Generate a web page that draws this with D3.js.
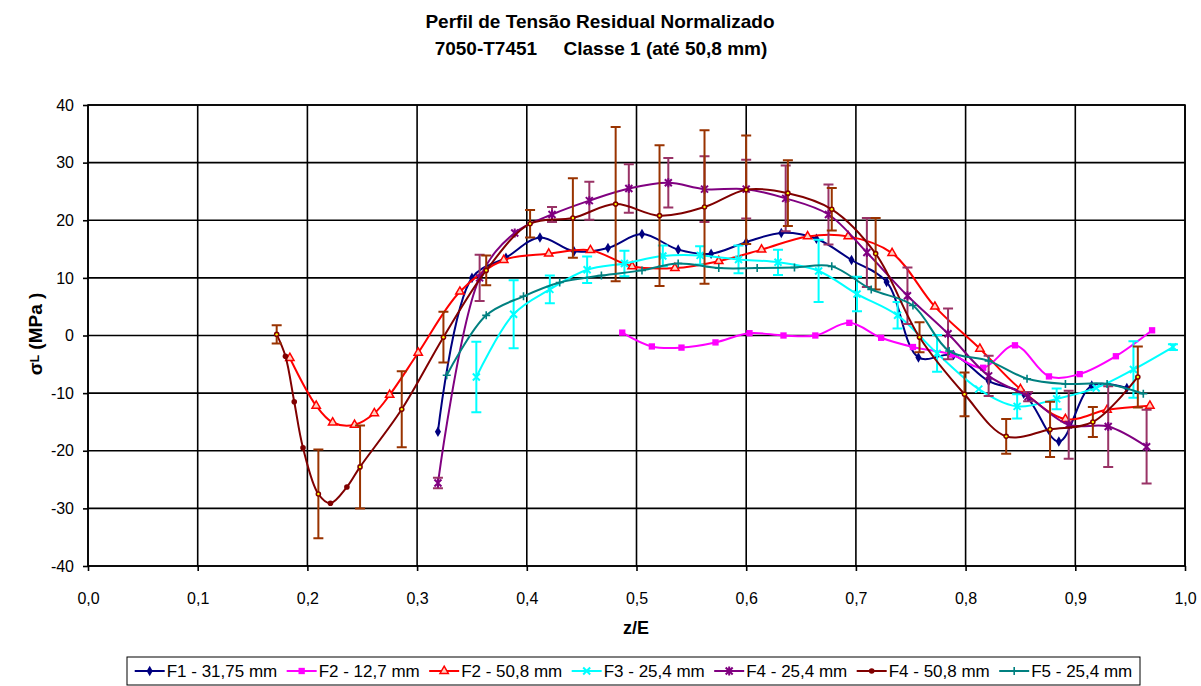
<!DOCTYPE html>
<html>
<head>
<meta charset="utf-8">
<script src="https://cdn.jsdelivr.net/npm/d3@7"></script>
<style>
  body { margin: 0; background: #fff; }
  svg { display: block; font-family: "Liberation Sans", Arial, Helvetica, sans-serif; }
</style>
</head>
<body>
<svg id="chart" width="1201" height="686"></svg>
<script>
// Axis ticks
const xTicks = [0, 0.1, 0.2, 0.3, 0.4, 0.5, 0.6, 0.7, 0.8, 0.9, 1.0];
const yTicks = [-40, -30, -20, -10, 0, 10, 20, 30, 40];

// Series labels and colours
const seriesNames = ["F1 - 31,75 mm", "F2 - 12,7 mm", "F2 - 50,8 mm", "F3 - 25,4 mm",
                     "F4 - 25,4 mm", "F4 - 50,8 mm", "F5 - 25,4 mm"];
const seriesColors = ["#000080", "#FF00FF", "#FF0000", "#00FFFF", "#800080", "#800000", "#008080"];
const errorColors = [null, null, null, "#00FFFF", "#993366", "#993300", null];
const markerKinds = ["diamond", "square", "triangle", "xmark", "star", "circle", "plus"];

// Points: [z/E, sigma_L (MPa), +/- error (MPa) or null]
const f1 = [[0.319,-16.7],[0.350,10.0],[0.381,13.5],[0.412,17.0],[0.443,14.6],[0.474,15.2],
            [0.505,17.6],[0.538,14.9],[0.568,14.2],[0.600,16.2],[0.632,17.8],[0.664,16.8],
            [0.696,13.1],[0.728,9.3],[0.757,-3.8],[0.789,-3.4],[0.821,-7.9],[0.853,-10.1],
            [0.885,-18.4],[0.915,-8.7],[0.947,-9.1]];
const f2a = [[0.487,0.5],[0.514,-1.9],[0.541,-2.1],[0.572,-1.2],[0.603,0.4],[0.634,0.0],
             [0.663,0.0],[0.694,2.2],[0.723,-0.4],[0.752,-2.0],[0.787,-3.3],[0.816,-5.6],
             [0.845,-1.7],[0.876,-7.1],[0.904,-6.7],[0.937,-3.6],[0.970,0.9]];
const f2b = [[0.184,-3.9],[0.208,-12.2],[0.223,-15.1],[0.243,-15.5],[0.261,-13.5],[0.275,-10.3],
             [0.301,-3.0],[0.339,7.6],[0.379,13.1],[0.420,14.2],[0.458,14.8],[0.496,12.0],
             [0.535,11.7],[0.575,12.9],[0.614,14.9],[0.656,17.2],[0.693,17.2],[0.733,14.3],
             [0.772,5.0],[0.813,-2.3],[0.850,-9.3],[0.891,-14.5],[0.929,-12.9],[0.968,-12.2]];
const f3 = [[0.354,-7.2,6.1],[0.388,3.7,5.9],[0.421,8.0,2.4],[0.455,11.4,2.3],[0.489,12.5,2.2],
            [0.524,13.8,1.8],[0.558,13.9,1.6],[0.593,13.2,2.4],[0.629,12.7,2.2],[0.666,11.2,5.4],
            [0.701,7.2,3.0],[0.738,3.5,2.3],[0.774,-3.1,3.2],[0.812,-9.3,null],[0.847,-12.3,2.1],
            [0.883,-11.0,1.8],[0.919,-9.1,null],[0.953,-5.9,4.9],[0.989,-2.0,0.5]];
const f4a = [[0.319,-25.6,0.9],[0.357,10.0,4.0],[0.389,17.8,null],[0.423,21.0,1.3],[0.457,23.4,3.3],
             [0.493,25.5,4.2],[0.529,26.5,4.3],[0.562,25.4,5.7],[0.600,25.4,5.1],[0.636,23.8,5.7],
             [0.675,21.0,5.2],[0.710,14.4,6.0],[0.747,6.9,4.9],[0.784,0.3,4.4],[0.821,-7.0,3.5],
             [0.857,-10.6,0.8],[0.894,-15.5,5.9],[0.930,-15.8,7.0],[0.965,-19.3,6.4]];
const f4b = [[0.172,0.2,1.6],[0.180,-3.6,null],[0.188,-11.5,null],[0.196,-19.5,null],[0.210,-27.5,7.7],
             [0.221,-29.1,null],[0.236,-26.3,null],[0.248,-22.8,7.2],[0.286,-12.8,6.6],[0.324,-0.3,4.4],
             [0.363,11.3,2.6],[0.403,19.4,2.4],[0.442,20.4,6.9],[0.481,22.8,13.4],[0.521,20.8,12.2],
             [0.562,22.3,13.3],[0.600,25.3,9.4],[0.638,24.7,5.7],[0.678,21.9,3.7],[0.718,14.2,6.2],
             [0.758,-0.3,2.6],[0.799,-10.2,3.8],[0.837,-17.5,3.0],[0.877,-16.3,4.8],[0.916,-15.0,2.6],
             [0.957,-7.2,5.3]];
const f5 = [[0.327,-6.9],[0.363,3.5],[0.397,6.8],[0.430,9.2],[0.468,10.4],[0.505,11.3],[0.538,12.5],
            [0.575,11.7],[0.610,11.7],[0.644,11.8],[0.678,12.0],[0.714,8.0],[0.752,5.2],[0.785,-2.7],
            [0.821,-4.4],[0.856,-7.5],[0.891,-8.4],[0.929,-8.4],[0.962,-10.1]];

const seriesData = [f1, f2a, f2b, f3, f4a, f4b, f5];

const svg = d3.select("#chart");
const plotL = 88, plotR = 1185, plotT = 105, plotB = 566;
const x = d3.scaleLinear().domain([0, 1]).range([plotL, plotR]);
const y = d3.scaleLinear().domain([-40, 40]).range([plotB, plotT]);

// Title
const title = svg.append("text").attr("text-anchor", "middle")
  .style("font-weight", "bold").style("font-size", "19px").attr("fill", "#000");
title.append("tspan").attr("x", 600).attr("y", 28).text("Perfil de Tensão Residual Normalizado");
title.append("tspan").attr("x", 601).attr("y", 55)
  .style("white-space", "pre").text("7050-T7451     Classe 1 (até 50,8 mm)");

// Grid
const grid = svg.append("g").attr("stroke", "#000").attr("stroke-width", 1.6);
grid.selectAll("line.v").data(xTicks).join("line").attr("class", "v")
  .attr("x1", d => x(d)).attr("x2", d => x(d)).attr("y1", plotT).attr("y2", plotB);
grid.selectAll("line.h").data(yTicks).join("line").attr("class", "h")
  .attr("x1", plotL).attr("x2", plotR).attr("y1", d => y(d)).attr("y2", d => y(d));
svg.append("rect").attr("x", plotL).attr("y", plotT).attr("width", plotR - plotL).attr("height", plotB - plotT)
  .attr("fill", "none").attr("stroke", "#000").attr("stroke-width", 1.6);

// Axes
const fmtX = d => d3.format(".1f")(d).replace(".", ",");
const xAxis = svg.append("g").attr("transform", `translate(0,${plotB})`)
  .call(d3.axisBottom(x).tickValues(xTicks).tickFormat(fmtX).tickSize(5).tickPadding(22));
const yAxis = svg.append("g").attr("transform", `translate(${plotL},0)`)
  .call(d3.axisLeft(y).tickValues(yTicks).tickFormat(d => String(d)).tickSize(5).tickPadding(9));
[xAxis, yAxis].forEach(a => {
  a.select(".domain").remove();
  a.selectAll(".tick line").attr("stroke", "#000").attr("stroke-width", 1.6);
  a.selectAll(".tick text").attr("fill", "#000")
    .style("font-family", "'Liberation Sans', Arial, sans-serif").style("font-size", "16px");
});

// Axis titles
svg.append("text").attr("x", 636).attr("y", 634).attr("text-anchor", "middle")
  .style("font-weight", "bold").style("font-size", "18px").text("z/E");
const yl = svg.append("text").attr("transform", "translate(42,334) rotate(-90)")
  .attr("text-anchor", "middle").style("font-weight", "bold").style("font-size", "19px");
yl.append("tspan").text("σ");
yl.append("tspan").style("font-size", "12px").attr("dy", -3).text("L");
yl.append("tspan").attr("dy", 3).text(" (MPa )");

// Marker shapes
function marker(sel, kind, color, withDot) {
  if (kind === "diamond") {
    sel.append("path").attr("d", d3.symbol(d3.symbolDiamond, 32)()).attr("fill", color);
  } else if (kind === "square") {
    sel.append("path").attr("d", d3.symbol(d3.symbolSquare, 40)()).attr("fill", color);
  } else if (kind === "triangle") {
    sel.append("path").attr("d", d3.symbol(d3.symbolTriangle, 30)()).attr("fill", "#ffd0c0")
      .attr("stroke", color).attr("stroke-width", 1.5);
  } else if (kind === "xmark") {
    sel.append("path").attr("d", "M-3.5,-3.5L3.5,3.5M-3.5,3.5L3.5,-3.5")
      .attr("stroke", color).attr("stroke-width", 2).attr("fill", "none");
  } else if (kind === "star") {
    sel.append("path").attr("d", "M-3.5,-3.5L3.5,3.5M-3.5,3.5L3.5,-3.5M0,-4.5V4.5")
      .attr("stroke", color).attr("stroke-width", 2).attr("fill", "none");
  } else if (kind === "circle") {
    sel.append("circle").attr("r", 2.8).attr("fill", color);
    if (withDot) sel.append("circle").attr("r", 1.2).attr("fill", "#FFFF00");
  } else if (kind === "plus") {
    sel.append("path").attr("d", "M-4,0H4M0,-4V4")
      .attr("stroke", color).attr("stroke-width", 1.6).attr("fill", "none");
  }
}

const line = d3.line().x(d => x(d[0])).y(d => y(d[1])).curve(d3.curveCatmullRom.alpha(0.5));
const plot = svg.append("g");

seriesData.forEach((data, i) => {
  const g = plot.append("g");
  const color = seriesColors[i];
  g.append("path").datum(data).attr("d", line)
    .attr("fill", "none").attr("stroke", color).attr("stroke-width", 2);
  if (errorColors[i]) {
    const eb = g.append("g").attr("stroke", errorColors[i]).attr("stroke-width", 2).attr("fill", "none");
    data.filter(d => d[2] != null).forEach(d => {
      const cx = x(d[0]), y1 = y(d[1] + d[2]), y2 = y(d[1] - d[2]);
      eb.append("path").attr("d", `M${cx},${y1}V${y2}M${cx - 5},${y1}H${cx + 5}M${cx - 5},${y2}H${cx + 5}`);
    });
  }
  data.forEach(d => {
    const m = g.append("g").attr("transform", `translate(${x(d[0])},${y(d[1])})`);
    marker(m, markerKinds[i], color, d[2] != null);
  });
});

// Legend
const legend = svg.append("g");
const boxX = 127, boxY = 657, boxW = 1013, boxH = 28;
legend.append("rect").attr("x", boxX).attr("y", boxY).attr("width", boxW).attr("height", boxH)
  .attr("fill", "#fff").attr("stroke", "#000").attr("stroke-width", 1);
const items = seriesNames.map((name, i) => {
  const g = legend.append("g");
  g.append("line").attr("x1", 0).attr("x2", 30).attr("y1", 0).attr("y2", 0)
    .attr("stroke", seriesColors[i]).attr("stroke-width", 2);
  const m = g.append("g").attr("transform", "translate(15,0)");
  marker(m, markerKinds[i], seriesColors[i], false);
  const t = g.append("text").attr("x", 32).attr("y", 6).style("font-size", "17px").text(name);
  return { g, w: 32 + t.node().getComputedTextLength() };
});
const totalW = d3.sum(items, d => d.w);
const gap = (boxW - 6 - totalW) / 7;
let lx = boxX + 3 + gap / 2;
items.forEach(it => {
  it.g.attr("transform", `translate(${lx},${boxY + boxH / 2})`);
  lx += it.w + gap;
});
</script>
</body>
</html>
